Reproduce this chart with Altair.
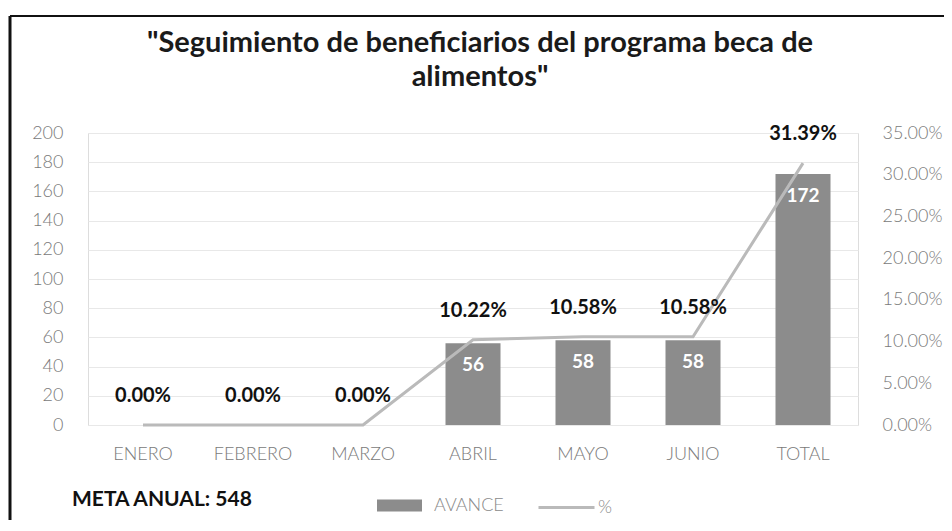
import altair as alt
import pandas as pd

meses = ["ENERO", "FEBRERO", "MARZO", "ABRIL", "MAYO", "JUNIO", "TOTAL"]
avance = [0, 0, 0, 56, 58, 58, 172]
porcentaje = [0.0, 0.0, 0.0, 0.1022, 0.1058, 0.1058, 0.3139]
meta_anual = 548
titulo = ["\"Seguimiento de beneficiarios del programa beca de", "alimentos\""]

df = pd.DataFrame({
    "mes": meses,
    "avance": avance,
    "pct": porcentaje,
    "s1": ["AVANCE"] * len(meses),
    "s2": ["%"] * len(meses),
    "lbl": [str(v) if v > 0 else "" for v in avance],
})

FONT = "Lato"
AX = "#7a7a7a"
x_enc = alt.X("mes:N", sort=meses,
              scale=alt.Scale(paddingInner=0.5, paddingOuter=0.25),
              axis=alt.Axis(title=None, labelAngle=0, labelPadding=20, labelFontSize=18,
                            labelColor=AX, labelFont=FONT, labelFontWeight=300,
                            ticks=False, domain=False))

y_left = alt.Y("avance:Q", scale=alt.Scale(domain=[0, 200], nice=False),
               axis=alt.Axis(title=None, values=list(range(0, 201, 20)), grid=True,
                             gridColor="#e8e8e8", domain=False, ticks=False,
                             labelPadding=25, labelFontSize=18, labelColor=AX,
                             labelFont=FONT, labelFontWeight=300))

y_right = alt.Y("pct:Q", scale=alt.Scale(domain=[0, 0.35], nice=False),
                axis=alt.Axis(title=None, orient="right", format=".2%",
                              values=[0, 0.05, 0.10, 0.15, 0.20, 0.25, 0.30, 0.35],
                              grid=False, domain=False, ticks=False, labelPadding=24,
                              labelFontSize=18, labelColor=AX, labelFont=FONT,
                              labelFontWeight=300))

base = alt.Chart(df)

bars = base.mark_bar(color="#8c8c8c").encode(
    x=x_enc, y=y_left,
    color=alt.Color("s1:N", scale=alt.Scale(domain=["AVANCE"], range=["#8c8c8c"]),
                    legend=alt.Legend(title=None, orient="none", legendX=289, legendY=350,
                                      symbolType="M-1,-0.27L1,-0.27L1,0.27L-1,0.27Z",
                                      symbolSize=2025, symbolStrokeWidth=0,
                                      labelFontSize=18, labelColor="#8a8a8a",
                                      labelFont=FONT, labelFontWeight=300,
                                      labelOffset=12, padding=0)),
)
bar_text = base.mark_text(color="white", font=FONT, fontWeight="bold", fontSize=19,
                          baseline="middle", dy=22).encode(x=x_enc, y=y_left, text="lbl:N")

line = base.mark_line(strokeWidth=3).encode(
    x=x_enc, y=y_right,
    stroke=alt.Stroke("s2:N", scale=alt.Scale(domain=["%"], range=["#bababa"]),
                      legend=alt.Legend(title=None, orient="none", legendX=449, legendY=345,
                                        symbolType="stroke", symbolSize=3136,
                                        symbolStrokeWidth=3, labelFontSize=18,
                                        labelColor="#8a8a8a", labelFont=FONT,
                                        labelFontWeight=300, labelOffset=2, padding=0)),
)
pct_text = base.mark_text(color="#111111", font=FONT, fontWeight="bold", fontSize=20,
                          baseline="middle", dy=-29).encode(
    x=x_enc, y=y_right, text=alt.Text("pct:Q", format=".2%"))

one = alt.Chart(pd.DataFrame({"a": [0]}))
frame_left = one.mark_rule(color="#111111", strokeWidth=3).encode(
    x=alt.value(-78), y=alt.value(-117), y2=alt.value(400))
frame_top = one.mark_rule(color="#111111", strokeWidth=2).encode(
    x=alt.value(-78), x2=alt.value(870), y=alt.value(-117))
meta = one.mark_text(align="left", baseline="middle", font=FONT, fontWeight="bold",
                     fontSize=21, color="#111111").encode(
    x=alt.value(-16), y=alt.value(367), text=alt.value(f"META ANUAL: {meta_anual}"))

left_layer = alt.layer(bars, bar_text)
right_layer = alt.layer(line, pct_text)

chart = alt.layer(left_layer, right_layer, frame_left, frame_top, meta).resolve_scale(
    y="independent", color="independent"
).properties(
    width=770, height=292,
    title=alt.TitleParams(text=titulo, font=FONT, fontSize=29, fontWeight="bold",
                          color="#1a1a1a", anchor="middle", frame="group", dx=7,
                          offset=-77, lineHeight=34),
    autosize=alt.AutoSizeParams(type="none"),
    padding={"left": 80, "top": 125, "right": 86, "bottom": 95},
).configure_view(stroke=None).configure(background="white")

chart.save("out.html", embed_options={"renderer": "svg", "actions": False})
